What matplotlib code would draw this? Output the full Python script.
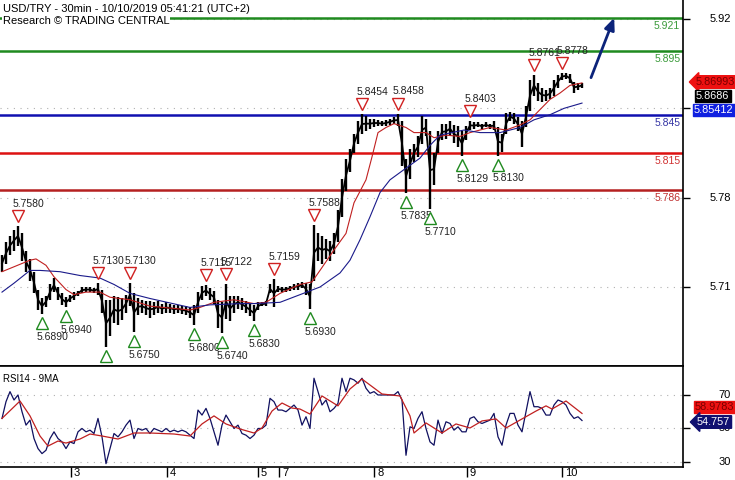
import numpy as np
import matplotlib
matplotlib.use("Agg")
import matplotlib.pyplot as plt
import matplotlib.transforms as mtransforms

# ---- price data: hourly high / low (index = hour since chart start)
highs = [5.735, 5.745, 5.750, 5.755, 5.758, 5.752, 5.738, 5.732, 5.722, 5.708,
         5.701, 5.703, 5.712, 5.717, 5.710, 5.705, 5.702, 5.704, 5.706, 5.707,
         5.710, 5.710, 5.710, 5.709, 5.713, 5.708, 5.700, 5.700, 5.703, 5.702,
         5.701, 5.704, 5.713, 5.705, 5.701, 5.700, 5.699, 5.699, 5.698, 5.699,
         5.697, 5.698, 5.697, 5.696, 5.696, 5.695, 5.695, 5.694, 5.696, 5.706,
         5.711, 5.7115, 5.709, 5.707, 5.700, 5.698, 5.7122, 5.703, 5.703, 5.703,
         5.701, 5.699, 5.697, 5.696, 5.698, 5.698, 5.699, 5.712, 5.7159, 5.711,
         5.710, 5.710, 5.711, 5.712, 5.713, 5.714, 5.713, 5.712, 5.7588, 5.752,
         5.750, 5.748, 5.746, 5.752, 5.770, 5.795, 5.810, 5.818, 5.830, 5.840,
         5.8454, 5.844, 5.842, 5.842, 5.841, 5.840, 5.841, 5.842, 5.843, 5.8458,
         5.840, 5.810, 5.818, 5.822, 5.828, 5.844, 5.842, 5.832, 5.815, 5.832,
         5.838, 5.838, 5.840, 5.837, 5.836, 5.832, 5.836, 5.8403, 5.839, 5.839,
         5.838, 5.839, 5.838, 5.840, 5.835, 5.830, 5.846, 5.847, 5.846, 5.843,
         5.840, 5.852, 5.872, 5.8761, 5.870, 5.866, 5.864, 5.866, 5.872, 5.876,
         5.8778, 5.878, 5.877, 5.871, 5.870, 5.870]
lows = [5.722, 5.728, 5.735, 5.738, 5.742, 5.730, 5.722, 5.715, 5.705, 5.692,
        5.689, 5.694, 5.700, 5.706, 5.700, 5.696, 5.694, 5.698, 5.700, 5.703,
        5.705, 5.706, 5.706, 5.705, 5.704, 5.690, 5.663, 5.672, 5.682, 5.680,
        5.684, 5.690, 5.695, 5.675, 5.688, 5.690, 5.688, 5.686, 5.688, 5.690,
        5.689, 5.690, 5.690, 5.689, 5.690, 5.689, 5.688, 5.686, 5.680, 5.690,
        5.700, 5.703, 5.700, 5.697, 5.678, 5.674, 5.685, 5.683, 5.690, 5.693,
        5.692, 5.690, 5.687, 5.683, 5.692, 5.695, 5.695, 5.705, 5.694, 5.706,
        5.706, 5.706, 5.707, 5.708, 5.708, 5.709, 5.704, 5.693, 5.715, 5.730,
        5.728, 5.732, 5.730, 5.736, 5.745, 5.765, 5.785, 5.800, 5.815, 5.822,
        5.830, 5.832, 5.834, 5.835, 5.836, 5.836, 5.836, 5.837, 5.838, 5.836,
        5.805, 5.7835, 5.795, 5.808, 5.812, 5.822, 5.828, 5.771, 5.790, 5.815,
        5.825, 5.826, 5.828, 5.823, 5.820, 5.8129, 5.825, 5.833, 5.834, 5.835,
        5.834, 5.835, 5.834, 5.833, 5.813, 5.816, 5.830, 5.840, 5.838, 5.832,
        5.820, 5.835, 5.848, 5.860, 5.856, 5.855, 5.856, 5.857, 5.860, 5.866,
        5.872, 5.873, 5.870, 5.862, 5.864, 5.866]
last_price = 5.8686

# moving averages (hour index, price)
ma_red_t = [0, 7, 8.5, 11, 13, 16, 18, 21, 24.5, 27, 32, 37, 47, 49.5, 53, 58, 63,
            66, 69.5, 74.5, 77.5, 79.5, 83, 86, 88, 91, 92.5, 94, 96, 98, 101,
            103, 106, 108, 111, 114.5, 117, 122, 126, 129.5, 132, 134.5, 137,
            139.5, 142, 145]
ma_red_v = [5.722, 5.731, 5.732, 5.727, 5.718, 5.708, 5.704, 5.706, 5.706, 5.702,
            5.700, 5.695, 5.692, 5.694, 5.698, 5.700, 5.697, 5.698, 5.705, 5.712,
            5.714, 5.723, 5.739, 5.752, 5.776, 5.794, 5.812, 5.831, 5.835, 5.838,
            5.835, 5.831, 5.831, 5.827, 5.829, 5.828, 5.831, 5.835, 5.833, 5.837,
            5.841, 5.849, 5.857, 5.862, 5.868, 5.86993]
ma_blue_t = [0, 3, 7, 9.5, 14.5, 19.5, 24.5, 28, 32, 37, 47, 52, 59.5, 63, 69.5,
             74.5, 79.5, 84.5, 87, 89.5, 92, 94.5, 97, 100.5, 104.5, 107, 109.5,
             115.5, 119.5, 124.5, 129.5, 133, 137, 140.5, 145]
ma_blue_v = [5.706, 5.713, 5.723, 5.723, 5.722, 5.719, 5.717, 5.712, 5.705, 5.701,
             5.694, 5.696, 5.697, 5.697, 5.698, 5.704, 5.710, 5.721, 5.731, 5.747,
             5.765, 5.784, 5.794, 5.802, 5.811, 5.821, 5.829, 5.833, 5.831, 5.831,
             5.835, 5.841, 5.845, 5.850, 5.85412]

# RSI14 per hour and its 9MA
rsi = [56, 66, 72, 67, 70, 60, 52, 55, 44, 38, 35, 37, 44, 48, 44, 42, 38, 42, 41, 48,
       50, 48, 49, 47, 56, 45, 29, 38, 47, 45, 48, 52, 55, 44, 50, 49, 50, 47, 50, 49,
       48, 50, 48, 49, 48, 49, 48, 46, 44, 61, 58, 62, 56, 48, 40, 52, 58, 54, 50, 52,
       47, 46, 44, 46, 50, 50, 52, 68, 66, 61, 61, 60, 62, 64, 61, 52, 57, 50, 80, 72,
       64, 67, 60, 62, 65, 80, 72, 80, 79, 77, 80, 74, 71, 72, 70, 70, 70, 70, 70, 72,
       67, 34, 51, 50, 56, 60, 50, 42, 40, 55, 47, 54, 53, 49, 51, 48, 48, 56, 57, 54,
       53, 54, 55, 59, 45, 40, 52, 59, 59, 52, 48, 60, 72, 63, 63, 62, 58, 58, 64, 67,
       66, 64, 59, 56, 57, 54.757]
rsi_ma_t = [0, 4.5, 7, 9.5, 11.5, 14, 16, 19.5, 22, 25, 29, 33, 37, 43, 47, 50, 53,
            56, 59.5, 63, 65, 67.5, 70, 72.5, 74.5, 77, 80, 84, 87, 90, 95, 99.5,
            102, 103, 106, 110, 113.5, 117, 120, 123.5, 126, 130, 133.5, 136, 137.5,
            141, 145]
rsi_ma_v = [56, 66.4, 57.5, 45.5, 39.5, 42.5, 41.3, 43.7, 46.7, 45.5, 43.7, 47.3,
            47.3, 46.7, 45.5, 52.7, 57.5, 52.7, 49.7, 47.3, 50.3, 60.4, 65.2, 62.2,
            61.6, 58.6, 69.4, 63.5, 73.6, 79.5, 70.6, 69.4, 57.5, 47.3, 53.3, 47.3,
            52.7, 50.3, 54.5, 55.7, 50.3, 55.7, 60.4, 63.5, 61.6, 66.4, 58.9783]

# swing markers (hour index)
swing_highs = [4, 24, 32, 51, 56, 68, 78, 90, 99, 117, 133, 140]
swing_lows = [10, 16, 26, 33, 48, 55, 63, 77, 101, 107, 115, 124]
swing_low_hidden = [26]

# support / resistance levels
levels = [5.921, 5.895, 5.845, 5.815, 5.786]
level_colors = ['#1f8a1f', '#1f8a1f', '#1010b0', '#dd1111', '#b52020']
level_text_colors = ['#3a9a3a', '#3a9a3a', '#3535a5', '#d03030', '#c03030']

day_ticks = [17.25, 41.25, 64, 69.25, 93, 116.25, 140]
day_labels = ['3', '4', '5', '7', '8', '9', '10']
price_ticks = [5.92, 5.85, 5.78, 5.71]
price_tick_labels = ['5.92', '', '5.78', '5.71']
rsi_ticks = [70, 50, 30]
rsi_tick_labels = ['70', '50', '30']

plt.rcParams['font.family'] = ['Liberation Sans', 'DejaVu Sans']

W, H = 735, 480
fig = plt.figure(figsize=(W / 100, H / 100), dpi=100)

def fx(px):
    return px / W

def fy(py):
    return 1 - py / H

ax = fig.add_axes([0, fy(366), fx(683), 366 / H])
ax2 = fig.add_axes([0, fy(467), fx(683), 101 / H], sharex=ax)

t = np.arange(len(highs))
ax.set_xlim(-0.5, 170.25)
ax.set_ylim(5.6481, 5.9349)
ax2.set_ylim(27.0, 87.3)

for a in (ax, ax2):
    a.spines['left'].set_visible(False)
    a.spines['right'].set_linewidth(1.2)
    a.spines['bottom'].set_linewidth(1.2)
    a.yaxis.tick_right()
    a.tick_params(axis='y', direction='out', length=5, width=1, labelright=False)
ax.spines['top'].set_visible(False)
ax2.spines['top'].set_linewidth(1.2)
ax.tick_params(axis='x', length=0, labelbottom=False)

# dotted grids
dot = dict(color='#b0b0b0', linestyle=(0, (1, 5)), linewidth=0.8, zorder=0)
for p in price_ticks:
    ax.axhline(p, **dot)
for r in rsi_ticks:
    ax2.axhline(r, **dot)
ax.set_yticks(price_ticks)
ax2.set_yticks(rsi_ticks)

# levels
for lv, c, tc in zip(levels, level_colors, level_text_colors):
    ax.axhline(lv, color=c, lw=1.8, zorder=2)
    ax.annotate(f"{lv:.3f}", (1.0, lv), xycoords=('axes fraction', 'data'),
                xytext=(-2, -2), textcoords='offset points', ha='right', va='top',
                fontsize=7.5, color=tc, zorder=3)

# price bars
ax.vlines(t, lows, highs, color='black', lw=1.7, zorder=4)
mid = (np.array(highs) + np.array(lows)) / 2
ax.plot(t, mid, color='black', lw=1.3, zorder=4)
ax.plot(ma_red_t, ma_red_v, color='#c02020', lw=0.8, zorder=5)
ax.plot(ma_blue_t, ma_blue_v, color='#1a1a8a', lw=0.8, zorder=5)

# forecast arrow
ax.annotate('', xy=(153.3, 5.923), xytext=(147, 5.872),
            arrowprops=dict(arrowstyle='-|>,head_length=0.7,head_width=0.3',
                            color='#0c237a', lw=2), zorder=6)

# swing markers
def shifted(dy_px):
    return ax.transData + mtransforms.ScaledTranslation(0, dy_px / 100, fig.dpi_scale_trans)

for i in swing_highs:
    ax.plot(i, highs[i], marker='v', ms=8, mfc='white', mec='#d02020', mew=1,
            transform=shifted(10), zorder=7)
    ax.annotate(f"{highs[i]:.4f}", (i, highs[i]), xytext=(-4, 16), textcoords='offset points',
                ha='left', va='center', fontsize=7.5, color='#222222', zorder=7)
for i in swing_lows:
    ax.plot(i, lows[i], marker='^', ms=8, mfc='white', mec='#1f8a1f', mew=1,
            transform=shifted(-9), zorder=7)
    if i not in swing_low_hidden:
        ax.annotate(f"{lows[i]:.4f}", (i, lows[i]), xytext=(-4, -16.5), textcoords='offset points',
                    ha='left', va='center', fontsize=7.5, color='#222222', zorder=7)

# RSI
ax2.plot(t, rsi, color='#101060', lw=0.9, zorder=4)
ax2.plot(rsi_ma_t, rsi_ma_v, color='#c02020', lw=0.9, zorder=5)
ax2.text(0.004, 0.87, 'RSI14 - 9MA', transform=ax2.transAxes, fontsize=7, va='center')

# date axis
ax2.set_xticks(day_ticks)
ax2.set_xticklabels(day_labels, ha='left', fontsize=8)
ax2.tick_params(axis='x', direction='out', length=7, width=1, pad=-6)
for lbl in ax2.get_xticklabels():
    lbl.set_transform(lbl.get_transform() + mtransforms.ScaledTranslation(3 / 100, 0, fig.dpi_scale_trans))

# right-hand tick labels
bt = mtransforms.blended_transform_factory(fig.transFigure, ax.transData)
for p, s in zip(price_ticks, price_tick_labels):
    fig.text(fx(731), p, s, transform=bt, ha='right', va='center', fontsize=8)
bt2 = mtransforms.blended_transform_factory(fig.transFigure, ax2.transData)
for r, s in zip(rsi_ticks, rsi_tick_labels):
    fig.text(fx(731), r, s, transform=bt2, ha='right', va='center', fontsize=8)

# value tags
def tag(px, py, s, fc, tc, style='square,pad=0.12'):
    fig.text(fx(px), fy(py), s, ha='left', va='center', fontsize=7.8, color=tc,
             bbox=dict(boxstyle=style, fc=fc, ec=fc), zorder=10)

tag(696, 82, f"{ma_red_v[-1]:.5f}", '#ee1111', '#7a0000', 'larrow,pad=0.12')
tag(696, 96, f"{last_price:.4f}", 'black', 'white')
tag(694, 110, f"{ma_blue_v[-1]:.5f}", '#1020e0', 'white')
tag(695, 407, f"{rsi_ma_v[-1]:.4f}", '#ee1111', '#7a0000')
tag(697, 422, f"{rsi[-1]:.3f}", '#101070', 'white', 'larrow,pad=0.12')

# headings
fig.text(fx(3), fy(9), 'USD/TRY - 30min - 10/10/2019 05:41:21 (UTC+2)', fontsize=8,
         va='center', ha='left', bbox=dict(fc='white', ec='none', pad=0.5), zorder=9)
fig.text(fx(3), fy(21), 'Research \u00a9 TRADING CENTRAL', fontsize=8,
         va='center', ha='left', bbox=dict(fc='white', ec='none', pad=0.5), zorder=9)

fig.savefig('out.png', dpi=100)
